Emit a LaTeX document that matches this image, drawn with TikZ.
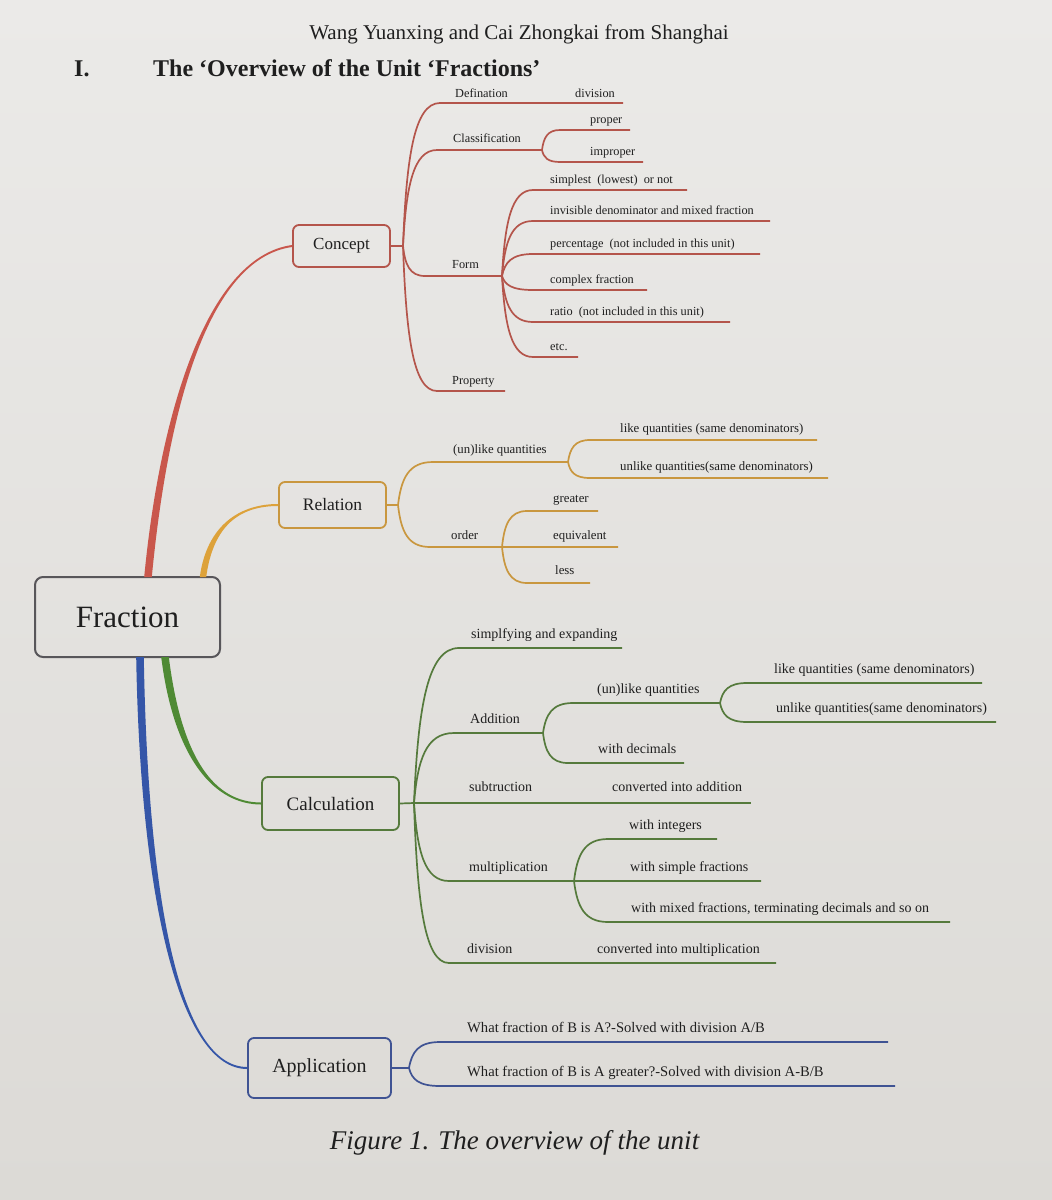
\documentclass[tikz,border=0pt]{standalone}
\usepackage{fontspec}
\setmainfont{Liberation Serif}
\usetikzlibrary{calc}
\definecolor{paperT}{HTML}{EBEAE8}
\definecolor{paperB}{HTML}{DCDAD6}
\definecolor{txt}{HTML}{1F1F1F}
\definecolor{redA}{HTML}{C9574C}
\definecolor{redB}{HTML}{B4554B}
\definecolor{orA}{HTML}{DDA23A}
\definecolor{orB}{HTML}{C9973F}
\definecolor{grA}{HTML}{4F8A34}
\definecolor{grB}{HTML}{557A3C}
\definecolor{blA}{HTML}{3556A8}
\definecolor{blB}{HTML}{3F5393}
\definecolor{rootc}{HTML}{58565A}
% tapered main branch: colour, start, c1, c2, end, start offset, end offset
\newcommand{\taperbranch}[7]{%
  \fill[#1] ($(#2)+(#6)$) .. controls ($(#3)+(#6)$) and ($(#4)+(#7)$) .. ($(#5)+(#7)$)
    -- ($(#5)-(#7)$) .. controls ($(#4)-(#7)$) and ($(#3)-(#6)$) .. ($(#2)-(#6)$) -- cycle;}
\begin{document}
\begin{tikzpicture}[x=1pt,y=-1pt,
  box/.style={draw, rounded corners=6pt, line width=1.8pt, text=txt, inner sep=0pt},
  lc/.style={font=\fontsize{12.3}{14}\selectfont, text=txt, inner sep=0pt, anchor=base west},
  lr/.style={lc, font=\fontsize{12.8}{14}\selectfont},
  lk/.style={lc, font=\fontsize{14}{16}\selectfont},
  lp/.style={lc, font=\fontsize{14.6}{16}\selectfont},
  fan/.style={to path={.. controls ($(\tikztostart)!0.62!($(\tikztostart|-\tikztotarget)!0.15!(\tikztotarget)$)$) and ($(\tikztostart|-\tikztotarget)!0.3!(\tikztotarget)$) .. (\tikztotarget)}},
  rl/.style={draw=redB, line width=1.7pt},
  ol/.style={draw=orB, line width=1.7pt},
  gl/.style={draw=grB, line width=1.7pt},
  bl/.style={draw=blB, line width=1.7pt}
]
\shade[top color=paperT, bottom color=paperB] (0,0) rectangle (1052,1200);
\useasboundingbox (0,0) rectangle (1052,1200);

% header
\node[font=\fontsize{21}{21}\selectfont, text=txt, anchor=base, inner sep=0pt] (author) at (519,39) {Wang Yuanxing and Cai Zhongkai from Shanghai};
\node[font=\bfseries\fontsize{24}{24}\selectfont, text=txt, anchor=base west, inner sep=0pt] (roman) at (74,76) {I.};
\node[font=\bfseries\fontsize{24}{24}\selectfont, text=txt, anchor=base west, inner sep=0pt] (title) at (153,76) {The ‘Overview of the Unit ‘Fractions’};

% boxes
\node[box, draw=rootc, line width=2pt, rounded corners=8pt, minimum width=185pt, minimum height=80pt, font=\fontsize{31}{31}\selectfont] (frac) at (127.5,617) {Fraction};
\node[box, draw=redB, minimum width=97pt, minimum height=42pt, font=\fontsize{17}{17}\selectfont] (concept) at (341.5,246) {Concept};
\node[box, draw=orB, minimum width=107pt, minimum height=46pt, font=\fontsize{17.5}{17.5}\selectfont] (relation) at (332.5,505) {Relation};
\node[box, draw=grB, minimum width=137pt, minimum height=53pt, font=\fontsize{19}{19}\selectfont] (calc) at (330.5,803.5) {Calculation};
\node[box, draw=blB, minimum width=143pt, minimum height=60pt, font=\fontsize{20}{20}\selectfont] (appl) at (319.5,1068) {Application};

% main branches
\coordinate (rA) at (148,577);
\coordinate (oA) at (203,577);
\coordinate (gA) at (165,657);
\coordinate (bA) at (140,657);
\taperbranch{redA}{rA}{163,420}{205,258}{concept.west}{-3.8,0}{0,-1}
\taperbranch{orA}{oA}{210,525}{240,505}{relation.west}{-3.2,0}{0,-1}
\taperbranch{grA}{gA}{178,760}{215,803.5}{calc.west}{3.8,0}{0,-1}
\taperbranch{blA}{bA}{144,900}{180,1068}{appl.west}{3.8,0}{0,-1}

% ---------------- Concept ----------------
\coordinate (cH) at (403,246);
\draw[rl] (concept.east) -- (cH);
\coordinate (def1) at (440,103); \coordinate (def2) at (623,103);
\draw[rl] (cH) to[fan] (def1) -- (def2);
\node[lc] (tdef) at (455,97) {Defination};
\node[lc] (tdiv) at (575,97) {division};
\coordinate (cls1) at (437,150); \coordinate (clsH) at (542,150);
\draw[rl] (cH) to[fan] (cls1) -- (clsH);
\node[lc] (tcls) at (453,142) {Classification};
\coordinate (pro1) at (560,130); \coordinate (pro2) at (630,130);
\coordinate (imp1) at (560,162); \coordinate (imp2) at (643,162);
\draw[rl] (clsH) to[fan] (pro1) -- (pro2);
\draw[rl] (clsH) to[fan] (imp1) -- (imp2);
\node[lc] (tpro) at (590,123) {proper};
\node[lc] (timp) at (590,155) {improper};
\coordinate (frm1) at (425,276); \coordinate (fH) at (502,276);
\draw[rl] (cH) to[fan] (frm1) -- (fH);
\node[lc] (tfrm) at (452,268) {Form};
\coordinate (s1) at (533,190); \coordinate (s2) at (687,190);
\coordinate (v1) at (533,221); \coordinate (v2) at (770,221);
\coordinate (p1) at (533,254); \coordinate (p2) at (760,254);
\coordinate (x1) at (533,290); \coordinate (x2) at (647,290);
\coordinate (q1) at (533,322); \coordinate (q2) at (730,322);
\coordinate (e1) at (533,357); \coordinate (e2) at (578,357);
\draw[rl] (fH) to[fan] (s1) -- (s2);
\draw[rl] (fH) to[fan] (v1) -- (v2);
\draw[rl] (fH) to[fan] (p1) -- (p2);
\draw[rl] (fH) to[fan] (x1) -- (x2);
\draw[rl] (fH) to[fan] (q1) -- (q2);
\draw[rl] (fH) to[fan] (e1) -- (e2);
\node[lc] (ts) at (550,183) {simplest\ \ (lowest)\ \ or not};
\node[lc] (tv) at (550,214) {invisible denominator and mixed fraction};
\node[lc] (tp) at (550,247) {percentage\ \ (not included in this unit)};
\node[lc] (tx) at (550,283) {complex fraction};
\node[lc] (tq) at (550,315) {ratio\ \ (not included in this unit)};
\node[lc] (te) at (550,350) {etc.};
\coordinate (prp1) at (437,391); \coordinate (prp2) at (505,391);
\draw[rl] (cH) to[fan] (prp1) -- (prp2);
\node[lc] (tprp) at (452,384) {Property};

% ---------------- Relation ----------------
\coordinate (rH) at (398,505);
\draw[ol] (relation.east) -- (rH);
\coordinate (u1) at (433,462); \coordinate (uH) at (568,462);
\draw[ol] (rH) to[fan] (u1) -- (uH);
\node[lr] (tu) at (453,453) {(un)like quantities};
\coordinate (lk1) at (590,440); \coordinate (lk2) at (817,440);
\coordinate (ul1) at (590,478); \coordinate (ul2) at (828,478);
\draw[ol] (uH) to[fan] (lk1) -- (lk2);
\draw[ol] (uH) to[fan] (ul1) -- (ul2);
\node[lr] (tlk) at (620,432) {like quantities (same denominators)};
\node[lr] (tul) at (620,470) {unlike quantities(same denominators)};
\coordinate (o1) at (430,547); \coordinate (oH) at (502,547); \coordinate (eq2) at (618,547);
\draw[ol] (rH) to[fan] (o1) -- (oH) -- (eq2);
\node[lr] (to) at (451,539) {order};
\coordinate (g1) at (527,511); \coordinate (g2) at (598,511);
\coordinate (l1) at (527,583); \coordinate (l2) at (590,583);
\draw[ol] (oH) to[fan] (g1) -- (g2);
\draw[ol] (oH) to[fan] (l1) -- (l2);
\node[lr] (tg) at (553,502) {greater};
\node[lr] (teq) at (553,539) {equivalent};
\node[lr] (tl) at (555,574) {less};

% ---------------- Calculation ----------------
\coordinate (kH) at (414,803);
\draw[gl] (calc.east) -- (kH);
\coordinate (sm1) at (459,648); \coordinate (sm2) at (622,648);
\draw[gl] (kH) to[fan] (sm1) -- (sm2);
\node[lk] (tsm) at (471,638) {simplfying and expanding};
\coordinate (ad1) at (454,733); \coordinate (aH) at (543,733);
\draw[gl] (kH) to[fan] (ad1) -- (aH);
\node[lk] (tad) at (470,723) {Addition};
\coordinate (u21) at (573,703); \coordinate (u2H) at (720,703);
\draw[gl] (aH) to[fan] (u21) -- (u2H);
\node[lk] (tu2) at (597,693) {(un)like quantities};
\coordinate (lq1) at (747,683); \coordinate (lq2) at (982,683);
\coordinate (uq1) at (747,722); \coordinate (uq2) at (996,722);
\draw[gl] (u2H) to[fan] (lq1) -- (lq2);
\draw[gl] (u2H) to[fan] (uq1) -- (uq2);
\node[lk] (tlq) at (774,673) {like quantities (same denominators)};
\node[lk] (tuq) at (776,712) {unlike quantities(same denominators)};
\coordinate (dc1) at (568,763); \coordinate (dc2) at (684,763);
\draw[gl] (aH) to[fan] (dc1) -- (dc2);
\node[lk] (tdc) at (598,753) {with decimals};
\coordinate (sb2) at (751,803);
\draw[gl] (kH) -- (sb2);
\node[lk] (tsb) at (469,791) {subtruction};
\node[lk] (tsba) at (612,791) {converted into addition};
\coordinate (mu1) at (449,881); \coordinate (mH) at (574,881); \coordinate (mu2) at (761,881);
\draw[gl] (kH) to[fan] (mu1) -- (mH) -- (mu2);
\node[lk] (tmu) at (469,871) {multiplication};
\coordinate (in1) at (608,839); \coordinate (in2) at (717,839);
\coordinate (mx1) at (608,922); \coordinate (mx2) at (950,922);
\draw[gl] (mH) to[fan] (in1) -- (in2);
\draw[gl] (mH) to[fan] (mx1) -- (mx2);
\node[lk] (tin) at (629,829) {with integers};
\node[lk] (tsf) at (630,871) {with simple fractions};
\node[lk] (tmx) at (631,912) {with mixed fractions, terminating decimals and so on};
\coordinate (dv1) at (449,963); \coordinate (dv2) at (776,963);
\draw[gl] (kH) to[fan] (dv1) -- (dv2);
\node[lk] (tdv) at (467,953) {division};
\node[lk] (tdvm) at (597,953) {converted into multiplication};

% ---------------- Application ----------------
\coordinate (pH) at (409,1068);
\draw[bl] (appl.east) -- (pH);
\coordinate (a11) at (440,1042); \coordinate (a12) at (888,1042);
\coordinate (a21) at (440,1086); \coordinate (a22) at (895,1086);
\draw[bl] (pH) to[fan] (a11) -- (a12);
\draw[bl] (pH) to[fan] (a21) -- (a22);
\node[lp] (ta1) at (467,1032) {What fraction of B is A?-Solved with division A/B};
\node[lp] (ta2) at (467,1076) {What fraction of B is A greater?-Solved with division A-B/B};

% caption
\node[font=\itshape\fontsize{27}{27}\selectfont, text=txt, anchor=base, inner sep=0pt] (cap) at (514.5,1149) {Figure 1. The overview of the unit};
\end{tikzpicture}
\end{document}
